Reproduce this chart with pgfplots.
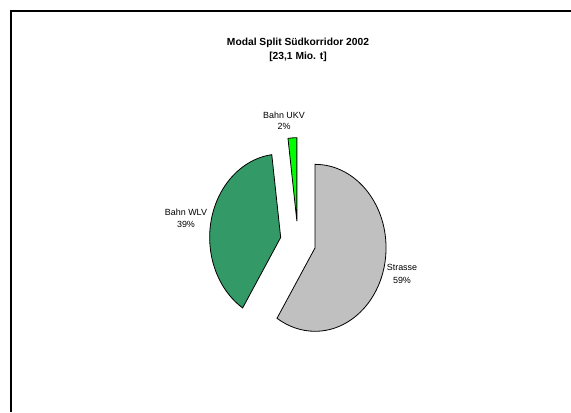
\documentclass[border=0pt]{standalone}
\usepackage{pgfplots}
\pgfplotsset{compat=1.18}
\usepackage{pgfplotstable}
\usepackage{fontspec}
\setmainfont{Liberation Sans}
\definecolor{strasse}{HTML}{C0C0C0}
\definecolor{wlv}{HTML}{339966}
\definecolor{ukv}{HTML}{00FF00}
\pgfplotstableread{
name value
Strasse 59
WLV 39
UKV 2
}\piedata
\begin{document}
\begin{tikzpicture}
\pgfplotstablegetelem{0}{value}\of\piedata \pgfmathsetmacro\vS{\pgfplotsretval}
\pgfplotstablegetelem{1}{value}\of\piedata \pgfmathsetmacro\vW{\pgfplotsretval}
\pgfplotstablegetelem{2}{value}\of\piedata \pgfmathsetmacro\vU{\pgfplotsretval}
\pgfmathsetmacro\tot{\vS+\vW+\vU}
\pgfmathsetmacro\aA{90}
\pgfmathsetmacro\aB{90-360*(\vS/\tot)}
\pgfmathsetmacro\aC{\aB-360*(\vW/\tot)}
\pgfmathsetmacro\aD{\aC-360*(\vU/\tot)}
\pgfmathsetmacro\dxS{0.25*53.25*cos((\aA+\aB)/2)}
\pgfmathsetmacro\dyS{0.25*62.6*sin((\aA+\aB)/2)}
\pgfmathsetmacro\dxW{0.25*53.25*cos((\aB+\aC)/2)}
\pgfmathsetmacro\dyW{0.25*62.6*sin((\aB+\aC)/2)}
\pgfmathsetmacro\dxU{0.25*53.25*cos((\aC+\aD)/2)}
\pgfmathsetmacro\dyU{0.25*62.6*sin((\aC+\aD)/2)}
\begin{axis}[at={(0,0)}, anchor=south west, scale only axis, width=428.25pt, height=309pt,
  xmin=0, xmax=571, ymin=0, ymax=412, y dir=reverse, hide axis, clip=false]
\draw[line width=1.5pt] (axis cs:11,412) -- (axis cs:11,11) -- (axis cs:571,11);
\filldraw[fill=strasse, draw=black, line width=0.6pt]
  ([shift={(\dxS pt,\dyS pt)}]axis cs:298,242) -- ++(\aA:53.25pt and 62.6pt)
  arc[start angle=\aA, end angle=\aB, x radius=53.25pt, y radius=62.6pt] -- cycle;
\filldraw[fill=wlv, draw=black, line width=0.6pt]
  ([shift={(\dxW pt,\dyW pt)}]axis cs:298,242) -- ++(\aB:53.25pt and 62.6pt)
  arc[start angle=\aB, end angle=\aC, x radius=53.25pt, y radius=62.6pt] -- cycle;
\filldraw[fill=ukv, draw=black, line width=0.6pt]
  ([shift={(\dxU pt,\dyU pt)}]axis cs:298,242) -- ++(\aC:53.25pt and 62.6pt)
  arc[start angle=\aC, end angle=\aD, x radius=53.25pt, y radius=62.6pt] -- cycle;
\node[align=center, font=\bfseries\fontsize{7.7}{10.5}\selectfont] at (axis cs:298,50)
  {Modal Split Südkorridor 2002\\{}[23,1 Mio. t]};
\node[align=center, font=\fontsize{6.7}{9.3}\selectfont] at (axis cs:402,274) {Strasse\\59\%};
\node[align=center, font=\fontsize{6.7}{9.3}\selectfont] at (axis cs:186,218) {Bahn WLV\\39\%};
\node[align=center, font=\fontsize{6.7}{8.5}\selectfont] at (axis cs:284,121) {Bahn UKV\\2\%};
\end{axis}
\pgfresetboundingbox
\path[use as bounding box] (0,0) rectangle (428.25pt,309pt);
\end{tikzpicture}
\end{document}
